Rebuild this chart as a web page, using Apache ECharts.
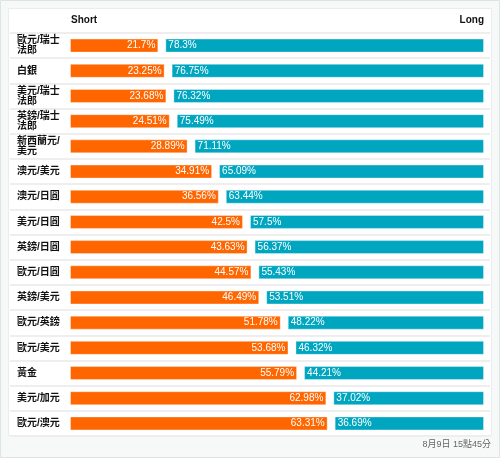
<!DOCTYPE html>
<html>
<head>
<meta charset="utf-8">
<script src="https://cdn.jsdelivr.net/npm/echarts@6/dist/echarts.min.js"></script>
<style>html,body{margin:0;padding:0;background:#fff}#c{width:500px;height:458px}</style>
</head>
<body>
<div id="c"></div>
<script>
const categories = ['歐元/瑞士法郎','白銀','美元/瑞士法郎','英鎊/瑞士法郎','新西蘭元/美元','澳元/美元','澳元/日圓','美元/日圓','英鎊/日圓','歐元/日圓','英鎊/美元','歐元/英鎊','歐元/美元','黃金','美元/加元','歐元/澳元'];
const shortValues = [21.7,23.25,23.68,24.51,28.89,34.91,36.56,42.5,43.63,44.57,46.49,51.78,53.68,55.79,62.98,63.31];
const longValues  = [78.3,76.75,76.32,75.49,71.11,65.09,63.44,57.5,56.37,55.43,53.51,48.22,46.32,44.21,37.02,36.69];
const headerLeft = 'Short';
const headerRight = 'Long';
const stamp = '8月9日 15點45分';

const FONT = '"Liberation Sans", Arial, "Noto Sans CJK TC", sans-serif';
const barLeft = 70, barRight = 484, gapPx = 7;
const gapUnits = gapPx * 100 / (barRight - barLeft - gapPx);
const spacer = categories.map(() => gapUnits);

const chart = echarts.init(document.getElementById('c'), null, {renderer: 'canvas'});
chart.setOption({
  animation: false,
  graphic: [
    {type: 'rect', z: -10, shape: {x: 0.5, y: 0.5, width: 499, height: 457}, style: {fill: '#f7f9f9', stroke: '#dde4e6', lineWidth: 1}},
    {type: 'rect', z: -9, shape: {x: 8.5, y: 8.5, width: 483, height: 427}, style: {fill: '#ffffff', stroke: '#e8eded', lineWidth: 1}},
    {type: 'text', left: 71, top: 15, style: {text: headerLeft, font: 'bold 10px ' + FONT, fill: '#111'}},
    {type: 'text', right: 500 - 484, top: 15, style: {text: headerRight, font: 'bold 10px ' + FONT, fill: '#111', align: 'right'}},
    {type: 'text', right: 9, top: 440, style: {text: stamp, font: '9px ' + FONT, fill: '#666', align: 'right'}}
  ],
  grid: [
    {left: 10, right: 10, top: 33, bottom: 22},
    {left: barLeft, right: 500 - barRight, top: 33, bottom: 22}
  ],
  xAxis: [
    {gridIndex: 0, type: 'value', min: 0, max: 1, show: false},
    {gridIndex: 1, type: 'value', min: 0, max: 100 + gapUnits, show: false}
  ],
  yAxis: [
    {gridIndex: 0, type: 'category', data: categories, inverse: true,
     axisLine: {show: false}, axisTick: {show: false},
     splitLine: {show: true, lineStyle: {color: '#eeeeee', width: 2}},
     axisLabel: {inside: true, margin: 7, align: 'left', color: '#111', fontSize: 10, fontWeight: 'bold', lineHeight: 10, fontFamily: FONT,
       formatter: v => v.length > 5 ? v.slice(0,5) + '\n' + v.slice(5) : v}},
    {gridIndex: 1, type: 'category', data: categories, inverse: true, show: false}
  ],
  series: [
    {name: 'Short', type: 'bar', stack: 'a', xAxisIndex: 1, yAxisIndex: 1, data: shortValues, barWidth: 14,
     itemStyle: {color: '#ff6600', borderColor: 'rgba(255,255,255,0.35)', borderWidth: 1},
     label: {show: true, position: 'insideRight', distance: 3, color: '#fff', fontSize: 10, fontFamily: FONT, formatter: p => p.value + '%'}},
    {name: 'gap', type: 'bar', stack: 'a', xAxisIndex: 1, yAxisIndex: 1, data: spacer, barWidth: 14,
     itemStyle: {color: 'rgba(0,0,0,0)'}, silent: true},
    {name: 'Long', type: 'bar', stack: 'a', xAxisIndex: 1, yAxisIndex: 1, data: longValues, barWidth: 14,
     itemStyle: {color: '#00a6c0', borderColor: 'rgba(255,255,255,0.35)', borderWidth: 1},
     label: {show: true, position: 'insideLeft', distance: 3, color: '#fff', fontSize: 10, fontFamily: FONT, formatter: p => p.value + '%'}}
  ]
});
</script>
</body>
</html>
